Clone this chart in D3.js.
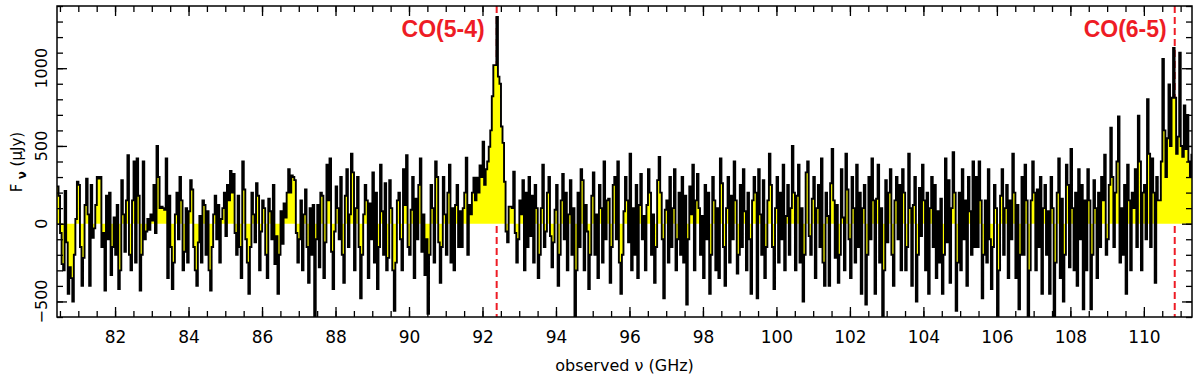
<!DOCTYPE html>
<html>
<head>
<meta charset="utf-8">
<script src="https://cdn.jsdelivr.net/npm/d3@7"></script>
<style>
  body { margin: 0; background: #fff; }
  svg { display: block; }
</style>
</head>
<body>
<svg id="chart" width="1200" height="380"></svg>
<script>
// Data
// ----

var chanStart = 80.42;     // GHz, left edge of the first channel
var chanWidth = 1 / 24;    // GHz per channel

// flux density per channel (uJy), one row per GHz
var fluxA = [ // 80.42 - 85.42 GHz
  240, 180, -60, -260, -300, 210, -120, -450, -280, -350, -500, -200, 30, 270, 250, -150, -400, -220, 120, 290, 60, -400, 250, -90,
  -30, 120, 300, 290, 300, -150, -60, -430, 180, -100, 200, -330, -150, 40, -200, 120, -420, -300, 280, 60, -180, 150, 440, -200,
  -300, 150, 400, -250, 420, 180, -430, -200, 400, -100, -50, 30, -40, 60, 20, 250, -60, 500, 300, 100, 110, 100, 90, 420,
  -350, 180, -150, -420, -250, 60, 200, -100, 300, 150, -300, -180, 100, -250, 80, 280, 220, -150, -300, -400, -120, 50, -250, 150,
  120, -200, 80, -300, -430, -150, 60, 180, -100, 120, -250, 30, 100, 200, -80, 250, 150, 340, 200, 320, -60, -200, 180, -150
];
var fluxB = [ // 85.42 - 90.42 GHz
  -350, 400, 220, -100, -250, -450, -150, 200, 60, -120, 260, 180, -300, -50, 150, 100, -200, -350, 160, 80, -100, 250, -260, -80,
  -450, -200, 80, -130, 130, 40, 200, 350, 200, 310, 300, 280, -60, -250, -100, 150, -300, 60, 220, -150, -380, 100, -200, 120,
  -620, -100, 120, -280, 200, 180, -350, -120, 380, 150, 420, -180, -420, -50, 240, 100, -100, 300, -200, -380, 180, 350, -150, 60,
  450, 330, -300, 100, 300, -150, -480, -200, 60, 250, 150, -350, 130, -100, 330, -250, 200, -420, -150, 380, 80, -200, 260, -300,
  -220, 280, 100, -300, -560, -250, 150, 200, -100, -300, 350, 120, 440, -150, -200, 90, 300, -350, 160, -100, 250, 420, -180, 60
];
var fluxC = [ // 90.42 - 95.42 GHz, CO(5-4)
  -330, -100, -580, -200, 250, 100, -250, 400, 300, -120, -380, -150, 300, 60, -200, 200, 380, -250, 100, -300, 120, 250, -150, 80,
  -150, 100, 200, 425, -200, 120, 60, 200, 296, 150, 296, 200, 374, 300, 527, 250, 350, 400, 495, 600, 820, 1020, 1020, 1330,
  946, 900, 625, 520, 270, -50, -120, 110, 110, 100, 335, -60, -250, -100, 150, 60, 280, -300, 200, -150, 300, -80, 180, -250,
  250, 100, -350, -200, 100, 380, -150, -50, 200, 300, -80, -280, -120, 90, 250, -400, -200, 150, 320, -100, 200, -300, 60, 280,
  -200, 100, -620, -300, 200, -150, 350, 280, -300, 120, -50, -420, -200, 180, 330, -200, 60, -350, 250, 100, -250, 400, -100, 150
];
var fluxD = [ // 95.42 - 100.42 GHz
  160, -380, -150, 250, 300, -100, 400, -250, -450, -200, 80, 300, 150, -120, 450, -300, 100, -200, 250, -350, 120, 320, -100, 50,
  -300, 120, 350, 200, -200, 60, -380, -150, 280, 430, 200, -100, -480, 90, 150, -250, 300, -150, 100, 350, -300, -100, 200, -200,
  300, -250, 180, -520, -100, 240, 60, 380, -300, 150, 320, 100, -200, 50, -350, 250, -100, 200, -450, -200, 300, 150, -300, 100,
  -350, 420, 260, -150, -400, 100, 300, -250, 180, -100, 400, 150, -320, -200, 250, -150, 350, 80, -300, 200, -100, -450, 150, 300,
  200, -480, 350, 60, -200, 280, -350, -150, 150, 450, 250, -150, -420, 100, 300, -250, 200, -100, 380, -300, 50, 250, -200, 100
];
var fluxE = [ // 100.42 - 105.42 GHz
  500, 200, -300, 180, 380, -250, 100, -500, -200, 330, 400, -80, -200, 160, 300, -350, 100, 250, -150, 420, -250, -400, 200, 50,
  -400, 260, 480, 150, -220, 120, -380, -200, 350, 40, -300, 450, 220, -100, -350, 300, 100, -250, 380, -150, 200, -450, 100, 250,
  -520, -200, 300, -100, 420, 150, -450, 160, 380, -250, 100, -600, -300, 280, -120, 200, 350, -200, -400, 150, 300, -100, 250, -300,
  350, 200, -300, -150, 450, 100, -400, 120, 300, -500, -200, 230, -80, 380, 150, -300, 200, -450, 100, 300, -150, 250, -350, 80,
  -250, 160, -450, -200, 420, -120, 280, -380, 100, 460, 200, -560, -250, 200, -300, 350, -100, 150, -400, 300, 80, -200, 400, -150
];
var fluxF = [ // 105.42 - 111.42 GHz, CO(6-5)
  300, -150, 400, 150, -480, -200, 150, -250, 350, -100, -420, -150, 250, 100, -600, -300, 180, 350, -200, 100, 250, -350, 150, -100,
  450, 200, -350, 120, -550, -200, 300, -200, 380, 150, -620, -300, 150, 400, 200, -300, 220, -150, 300, -450, 100, 250, -200, 80,
  -450, 300, 100, -600, -250, 200, 420, -350, 160, -500, -200, 380, 250, -280, 480, 100, -300, 200, -400, 350, -100, 250, -550, 150,
  -300, 350, 150, -550, -200, 280, 100, -350, 200, -150, 300, 150, 444, -200, -100, 250, 617, 300, -150, 200, 400, 690, -250, 100,
  -200, 250, -450, 380, 150, -300, 200, 100, 350, -150, 695, 400, -300, 200, 250, -100, 800, 450, -150, 420, 200, -380, 300, 150,
  150, 400, 1060, 600, 300, 550, 895, 500, 810, 1130, 810, 450, 560, 1100, 500, 430, 760, 480, 700, 400, 300, 444, 250, 200
];

var xTickLabels = [82, 84, 86, 88, 90, 92, 94, 96, 98, 100, 102, 104, 106, 108, 110];
var yTickLabels = [-500, 0, 500, 1000];
var lineNames = ["CO(5-4)", "CO(6-5)"];
var lineFreqs = [92.386, 110.84];

// Setup
// -----

var margin = {left: 57, right: 8, top: 6, bottom: 63};
var W = 1200, H = 380;
var red = "#ee1c25";
var tickFont = "'DejaVu Sans', 'Liberation Sans', sans-serif";

var svg = d3.select("#chart");

var xScale = d3.scaleLinear().domain([80.42, 111.31]).range([margin.left, W - margin.right]);
var yScale = d3.scaleLinear().domain([-600, 1400]).range([H - margin.bottom, margin.top]);

var x0 = xScale.range()[0], x1 = xScale.range()[1];
var y0 = yScale.range()[1], y1 = yScale.range()[0];

svg.append("clipPath").attr("id", "plotclip")
  .append("rect")
  .attr("x", x0).attr("y", y0)
  .attr("width", x1 - x0).attr("height", y1 - y0);

// Process data
// ------------
var flux = [].concat(fluxA, fluxB, fluxC, fluxD, fluxE, fluxF);
var chans = flux.map(function(v, i) { return {f: chanStart + i * chanWidth, v: v}; });
chans.push({f: chanStart + flux.length * chanWidth, v: flux[flux.length - 1]});

// Line markers (behind spectrum)
// ------------------------------
svg.append("g").selectAll("line")
  .data(lineFreqs)
  .enter().append("line")
  .attr("x1", function(d) { return xScale(d); })
  .attr("x2", function(d) { return xScale(d); })
  .attr("y1", y0).attr("y2", y1)
  .attr("stroke", red)
  .attr("stroke-width", 2)
  .attr("stroke-dasharray", "7,4");

// Spectrum
// --------
var plot = svg.append("g").attr("clip-path", "url(#plotclip)");

var area = d3.area()
  .curve(d3.curveStepAfter)
  .x(function(d) { return xScale(d.f); })
  .y0(yScale(0))
  .y1(function(d) { return yScale(d.v); });

var line = d3.line()
  .curve(d3.curveStepAfter)
  .x(function(d) { return xScale(d.f); })
  .y(function(d) { return yScale(d.v); });

plot.append("path")
  .datum(chans)
  .attr("d", area)
  .attr("fill", "#ffff00");

plot.append("path")
  .datum(chans)
  .attr("d", line)
  .attr("fill", "none")
  .attr("stroke", "#000")
  .attr("stroke-width", 1.9);

// Axes (ticks point inward)
// -------------------------
var xMinor = d3.range(80.5, 111.3, 0.5);
var yMinor = d3.range(-600, 1401, 100);

function addAxis(axis, tx, ty) {
  var g = svg.append("g")
    .attr("transform", "translate(" + tx + "," + ty + ")")
    .call(axis);
  g.select(".domain").remove();
  g.selectAll("line").attr("stroke", "#000").attr("stroke-width", 1.3);
  return g;
}

addAxis(d3.axisBottom(xScale).tickValues(xMinor).tickSize(-6).tickFormat(""), 0, y1);
addAxis(d3.axisTop(xScale).tickValues(xMinor).tickSize(-6).tickFormat(""), 0, y0);
addAxis(d3.axisLeft(yScale).tickValues(yMinor).tickSize(-6).tickFormat(""), x0, 0);
addAxis(d3.axisRight(yScale).tickValues(yMinor).tickSize(-6).tickFormat(""), x1, 0);

var xMajor = addAxis(d3.axisBottom(xScale).tickValues(xTickLabels).tickSize(-10).tickPadding(14), 0, y1);
addAxis(d3.axisTop(xScale).tickValues(xTickLabels).tickSize(-10).tickFormat(""), 0, y0);
addAxis(d3.axisLeft(yScale).tickValues(yTickLabels).tickSize(-10).tickFormat(""), x0, 0);
addAxis(d3.axisRight(yScale).tickValues(yTickLabels).tickSize(-10).tickFormat(""), x1, 0);

xMajor.selectAll("text")
  .attr("fill", "#000")
  .style("font-family", tickFont)
  .style("font-size", "17px");

// y tick labels, rotated like the original
svg.append("g").selectAll("text")
  .data(yTickLabels)
  .enter().append("text")
  .attr("transform", function(d) { return "translate(47," + yScale(d) + ") rotate(-90)"; })
  .attr("text-anchor", "middle")
  .style("font-family", tickFont)
  .style("font-size", "16px")
  .text(function(d) { return d < 0 ? "\u2212" + (-d) : d; });

// Frame
// -----
svg.append("rect")
  .attr("x", x0).attr("y", y0)
  .attr("width", x1 - x0).attr("height", y1 - y0)
  .attr("fill", "none")
  .attr("stroke", "#000")
  .attr("stroke-width", 1.5);

// Axis titles
// -----------
svg.append("text")
  .attr("x", (x0 + x1) / 2).attr("y", 371)
  .attr("text-anchor", "middle")
  .style("font-family", tickFont)
  .style("font-size", "16px")
  .text("observed \u03bd (GHz)");

var ytitle = svg.append("text")
  .attr("transform", "translate(22,162) rotate(-90)")
  .attr("text-anchor", "middle")
  .style("font-family", tickFont)
  .style("font-size", "15px");
ytitle.append("tspan").text("F");
ytitle.append("tspan").attr("dy", 4).style("font-size", "12px").style("font-weight", "bold").text(" \u03bd");
ytitle.append("tspan").attr("dy", -4).text("  (\u03bcJy)");

// Line labels
// -----------
svg.append("g").selectAll("text")
  .data(lineFreqs)
  .enter().append("text")
  .attr("x", function(d, i) { return xScale(d) - (i === 0 ? 12 : 8); })
  .attr("y", 37)
  .attr("text-anchor", "end")
  .attr("fill", red)
  .style("font-family", "'Liberation Sans', Arial, sans-serif")
  .style("font-weight", "bold")
  .style("font-size", "23px")
  .text(function(d, i) { return lineNames[i]; });
</script>
</body>
</html>
